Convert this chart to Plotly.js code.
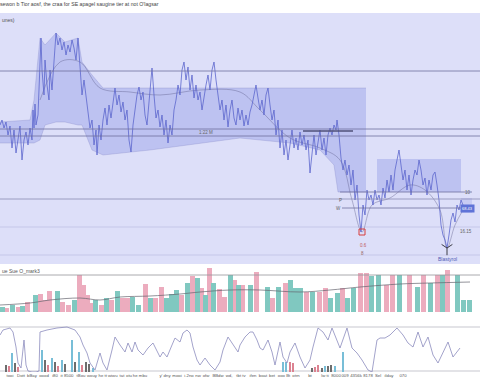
<!DOCTYPE html>
<html><head><meta charset="utf-8">
<script src="https://cdn.plot.ly/plotly-3.0.1.min.js"></script>
<style>html,body{margin:0;padding:0;background:#fff;}#chart{width:480px;height:384px;}</style>
</head><body><div id="chart"></div>
<script>
const titleText = "sewon b Tior aosf, the craa for SE apagel saugine tier at not O'lagsar";

const priceDays = [0,2,4,6,8,10,12,14,16,18,20,22,24,26,28,30,32,33,34,35,36,38,40,41,42,44,45,47,49,50,52,54,56,58,60,62,64,66,68,70,72,74,76,78,80,82,84,86,88,90,92,94,96,97,99,101,103,105,107,109,111,113,115,117,119,121,123,125,127,129,131,133,135,137,139,141,143,145,147,149,151,152,154,156,158,160,162,164,166,168,170,172,174,176,178,180,182,184,186,188,190,192,194,196,198,200,202,204,206,208,210,212,214,216,218,220,222,224,226,228,230,232,234,236,238,240,242,244,246,248,250,252,254,256,258,260,262,264,266,268,270,272,274,276,278,280,282,284,286,288,290,292,294,296,298,300,302,304,306,308,310,312,314,316,318,320,322,324,326,328,330,332,334,336,337,339,341,343,345,347,349,351,353,355,357,359,361,363,365,367,369,371,373,375,377,379,381,383,385,387,389,391,393,395,397,399,401,403,405,407,409,411,413,415,417,419,421,423,425,427,429,431,433,435,437,439,441,443,445,447,449,451,453,455,457,459,461,463];
const priceVals = [137,142,134,140,127,136,114,132,109,124,136,102,122,130,117,134,122,152,134,158,137,147,202,224,192,167,202,177,162,192,172,207,229,217,224,212,220,207,217,210,222,214,202,224,192,167,182,165,152,134,142,117,132,107,137,122,142,154,137,157,144,162,174,157,167,150,160,142,152,122,110,137,152,167,175,162,170,147,137,157,177,194,167,144,152,135,147,127,142,119,137,127,152,162,177,167,192,200,182,195,172,187,164,177,162,170,152,167,177,187,172,192,200,182,167,152,162,142,157,135,152,162,144,137,154,142,152,136,147,137,150,157,167,177,164,152,162,147,167,174,157,142,152,127,142,114,132,107,122,102,117,132,114,124,112,130,117,127,112,122,89,112,127,107,122,132,112,124,107,127,134,127,137,132,142,127,104,92,102,87,97,77,92,62,77,47,30,57,47,72,62,67,57,72,62,67,57,74,64,82,70,87,72,92,102,112,97,82,92,72,87,67,82,92,87,102,92,77,84,67,82,72,87,90,77,62,37,27,22,14,27,42,49,40,57,52,62,57];

const maDays = [40,60,80,100,130,160,200,240,260,290,320,340,352,362,372,390,410,425,440,447,455,463];
const maVals = [162,200,200,174,170,167,172,170,152,124,114,102,62,30,57,64,77,72,52,14,37,52];

const bandDays  = [0,30,34,40,45,56,65,78,82,92,103,150,240,290,320,334,338,366];
const bandUpper = [140,142,162,224,217,229,220,224,200,187,174,174,174,174,174,174,174,174];
const bandLower = [119,119,119,122,137,140,140,137,137,112,107,112,124,119,112,97,70,70];

const zoneStart = [377,461];
const zoneEnd   = [461,472];
const zoneLow   = [70,49];
const zoneHigh  = [103,64];

const levelLines = [191,133,126,63];
const faintLevels = [35,7];
const segStart = [340,342,303];
const segEnd   = [472,461,353];
const segLevel = [70,54,131];

const volDays = [2,6,12,18,22,27,35,40,44,49,57,62,68,74,79,83,87,91,95,101,106,111,117,122,127,132,138,145,150,155,161,166,171,176,181,187,192,197,201,205,209,213,219,224,230,234,238,242,250,256,267,272,278,285,290,295,300,306,312,319,325,330,337,342,347,353,360,366,371,378,386,392,399,409,417,423,430,437,442,447,457,463,469];
const volVals = [5,4,7,5,6,10,17,18,12,21,21,10,7,12,37,27,17,9,12,7,14,12,21,14,14,15,7,28,14,14,25,14,18,22,17,29,36,34,24,17,44,29,23,15,37,32,27,27,27,40,25,14,25,29,32,24,24,20,20,20,24,14,19,24,14,24,39,39,36,37,27,37,37,37,25,37,29,37,37,42,37,12,12];
const volDir  = ["t","p","t","p","t","p","t","p","p","p","t","p","p","t","p","p","p","p","t","p","t","p","t","p","p","t","t","p","t","p","p","t","t","t","p","t","p","t","p","t","p","t","p","p","t","p","t","p","t","p","t","p","t","p","t","t","t","p","t","p","p","t","t","p","t","t","p","p","t","t","p","p","t","p","t","p","t","p","t","p","t","t","t"];
const volMaDays = [0,30,50,80,100,120,150,180,200,230,260,300,330,360,400,430,470];
const volMaVals = [7,9,12,14,12,15,16,18,20,22,22,20,22,25,28,29,30];
const volCap = 37;

const oscDays = [0,3,10,13,16,18,21,23,24,26,28,32,36,39,40,47,57,67,75,80,83,87,90,95,100,103,107,112,115,120,125,128,132,135,138,143,148,153,157,160,163,167,172,175,180,183,187,190,193,197,200,205,210,215,220,223,228,233,238,240,245,250,253,257,260,263,268,272,275,280,283,287,290,295,300,305,310,313,318,323,328,332,337,340,347,352,357,362,368,372,377,380,385,390,397,403,408,413,418,423,428,433,438,443,448,453,460];
const oscVals = [37,42,44,40,25,9,4,19,32,7,1,0,0,1,40,42,44,45,42,35,27,19,9,2,19,9,2,22,35,27,20,29,20,30,22,17,24,29,20,15,20,15,27,34,30,39,42,39,25,12,7,14,7,2,10,22,35,27,20,27,35,40,40,32,24,22,32,20,7,30,15,9,20,29,15,4,12,25,44,40,32,44,32,24,44,24,19,12,2,0,32,34,34,37,44,37,29,25,40,25,35,17,9,20,30,15,24];
const oscLevels = [45,1];

const histDays = [6,9,12,15,18,42,45,48,52,55,58,62,65,72,75,79,82,86,89,93,283,286,290,293,312,315,318,322,325,328,331,335,343];
const histVals = [7,6,19,9,5,22,12,7,14,10,6,12,8,32,10,20,7,10,8,4,10,10,10,9,4,5,7,4,6,6,7,6,20];
const histKind = ["d","p","t","d","p","t","d","p","t","d","p","t","d","t","d","t","p","d","d","t","t","t","p","p","d","p","p","d","t","d","d","t","t"];

const tickDays = [2,10,21,32,44,55,67,81,92,101,111,122,129,140,165,177,189,198,206,218,229,241,253,263,272,284,296,310,325,336,345,356,368,378,389,403];
const tickText = ["ay","tooi","Dott","bBay","oood","i80","it 8500","tBou","wouy","he","tt wiwu","tat","otu","he mbu","y' dny","mooi","i.2no","nw","ofw","BBdw","wd,","tbt tv","ifen","boat","bet","ooo Bt","otrn","bt","lw ti","8000","009","4356k","8178","Sel","ilday","070"];

const COL = {
  lav:'rgb(221,223,249)', band:'rgba(128,138,226,0.34)', zone:'rgba(128,138,226,0.34)', zone2:'rgba(128,138,226,0.22)',
  price:'rgb(92,102,205)', ma:'rgba(95,95,140,0.7)', level:'rgb(112,112,160)', faint:'rgba(150,150,200,0.45)',
  pink:'rgb(236,172,190)', teal:'rgb(128,200,192)', dark:'rgb(110,110,110)', hteal:'rgb(120,190,215)'
};
const FONT = 'Liberation Sans, Arial, sans-serif';

function pick(arr, mask, key){ return arr.filter((v,i)=>mask[i]===key); }

const traces = [];
traces.push({x:bandDays, y:bandLower, type:'scatter', mode:'lines', line:{width:0.6,color:'rgba(120,125,190,0.45)'}, hoverinfo:'skip'});
traces.push({x:bandDays, y:bandUpper, type:'scatter', mode:'lines', fill:'tonexty', fillcolor:COL.band, line:{width:0.6,color:'rgba(120,125,190,0.45)'}, hoverinfo:'skip'});
traces.push({x:maDays, y:maVals, type:'scatter', mode:'lines', line:{width:0.6,color:COL.ma,shape:'spline'}, hoverinfo:'skip'});
traces.push({x:priceDays, y:priceVals, type:'scatter', mode:'lines', line:{width:0.8,color:COL.price}});
traces.push({x:[362], y:[30], type:'scatter', mode:'markers', marker:{symbol:'square-open', size:6, color:'rgb(215,60,60)', line:{width:1}}});
traces.push({x:[447], y:[14], type:'scatter', mode:'markers', marker:{symbol:'y-down-open', size:9, color:'rgb(60,60,70)', line:{width:1}}});
traces.push({x:pick(volDays,volDir,'p'), y:pick(volVals,volDir,'p'), type:'bar', width:5, marker:{color:COL.pink, line:{width:0}}, xaxis:'x', yaxis:'y2'});
traces.push({x:pick(volDays,volDir,'t'), y:pick(volVals,volDir,'t'), type:'bar', width:5, marker:{color:COL.teal, line:{width:0}}, xaxis:'x', yaxis:'y2'});
traces.push({x:volMaDays, y:volMaVals, type:'scatter', mode:'lines', line:{width:0.7,color:'rgb(100,100,110)',shape:'spline'}, xaxis:'x', yaxis:'y2'});
traces.push({x:pick(histDays,histKind,'t'), y:pick(histVals,histKind,'t'), type:'bar', width:2, marker:{color:COL.hteal}, xaxis:'x', yaxis:'y3'});
traces.push({x:pick(histDays,histKind,'p'), y:pick(histVals,histKind,'p'), type:'bar', width:2, marker:{color:'rgb(220,130,145)'}, xaxis:'x', yaxis:'y3'});
traces.push({x:pick(histDays,histKind,'d'), y:pick(histVals,histKind,'d'), type:'bar', width:2, marker:{color:COL.dark}, xaxis:'x', yaxis:'y3'});
traces.push({x:oscDays, y:oscVals, type:'scatter', mode:'lines', line:{width:0.8,color:'rgb(140,140,190)'}, xaxis:'x', yaxis:'y3'});

const shapes = [];
shapes.push({type:'rect', xref:'paper', yref:'y domain', x0:0, x1:1, y0:0, y1:1, fillcolor:COL.lav, line:{width:0}, layer:'below'});
faintLevels.forEach(v=>shapes.push({type:'line', xref:'paper', yref:'y', x0:0, x1:1, y0:v, y1:v, line:{color:COL.faint,width:0.7}, layer:'below'}));
levelLines.forEach((v,i)=>shapes.push({type:'line', xref:'paper', yref:'y', x0:0, x1:1, y0:v, y1:v, line:{color:i===3?'rgb(140,140,180)':COL.level,width:0.8}}));
zoneStart.forEach((s,i)=>shapes.push({type:'rect', xref:'x', yref:'y', x0:s, x1:zoneEnd[i], y0:zoneLow[i], y1:zoneHigh[i], fillcolor:i===0?COL.zone:COL.zone2, line:{width:0}, layer:'below'}));
segStart.forEach((s,i)=>shapes.push({type:'line', xref:'x', yref:'y', x0:s, x1:segEnd[i], y0:segLevel[i], y1:segLevel[i], line:{color:i===2?'rgb(80,80,120)':COL.level,width:i===2?1.6:0.8}}));
shapes.push({type:'line', xref:'paper', yref:'y2', x0:0, x1:1, y0:volCap, y1:volCap, line:{color:'rgb(150,150,155)',width:0.8}});
oscLevels.forEach(v=>shapes.push({type:'line', xref:'paper', yref:'y3', x0:0, x1:1, y0:v, y1:v, line:{color:'rgb(185,185,195)',width:0.8}, layer:'below'}));

const ann = (x,y,text,opts={}) => Object.assign({x, y, xref:'x', yref:'y', text, showarrow:false, font:{family:FONT,size:4.5,color:'#666'}}, opts);
const annotations = [
  ann(0,242,'unes)',{xanchor:'left',font:{family:FONT,size:5,color:'#555'}}),
  ann(206,130,'1:22 M'),
  ann(447,3,'Blastyrol',{font:{family:FONT,size:5,color:'rgb(80,90,180)'}}),
  ann(363,17,'0.6',{font:{family:FONT,size:4.5,color:'rgb(190,90,90)'}}),
  ann(362,9,'8',{font:{family:FONT,size:4.5,color:'rgb(150,100,100)'}}),
  ann(467,54,'68.43',{bgcolor:'rgb(95,115,215)',font:{family:FONT,size:4,color:'#fff'},borderpad:1}),
  ann(466,31,'16.15'),
  ann(468,70,'10'),
  ann(340,62,'P'),
  ann(338,54,'W'),
  ann(0,41,'ue Sue O_mark3',{yref:'y2',xanchor:'left',font:{family:FONT,size:5,color:'#555'}}),
  ann(467,-3,'ad (ua',{yref:'y2',font:{family:FONT,size:4.5,color:'#555'}})
];

const hidden = {showgrid:false, zeroline:false, showline:false, showticklabels:false, ticks:''};
const layout = {
  width:480, height:384,
  margin:{l:0,r:0,t:13,b:12,pad:0},
  paper_bgcolor:'#fff', plot_bgcolor:'rgba(0,0,0,0)',
  showlegend:false, bargap:0, barmode:'overlay',
  title:{text:titleText, x:0, xanchor:'left', xref:'paper', y:0.995, yanchor:'top', font:{family:FONT,size:5.2,color:'#444'}, pad:{l:0,t:0,b:0,r:0}},
  xaxis:{domain:[0,1], range:[0,480], anchor:'y3', showgrid:false, zeroline:false, showline:false, ticks:'', tickvals:tickDays, ticktext:tickText, tickangle:0, tickfont:{family:FONT,size:4.3,color:'#555'}},
  yaxis:Object.assign({domain:[0.3008,1], range:[-2,249], anchor:'x'}, hidden),
  yaxis2:Object.assign({domain:[0.1671,0.3008], range:[0,48], anchor:'x'}, hidden),
  yaxis3:Object.assign({domain:[0,0.1281], range:[0,46], anchor:'x'}, hidden),
  shapes, annotations
};
Plotly.newPlot('chart', traces, layout, {staticPlot:true, displayModeBar:false});
</script>
</body></html>
